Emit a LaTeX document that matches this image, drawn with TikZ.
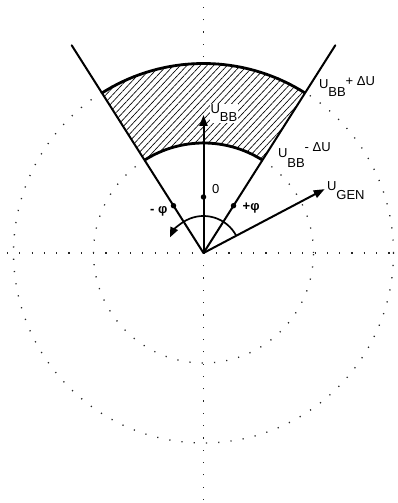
\documentclass[tikz,border=0pt]{standalone}
\usepackage{fontspec}
\setmainfont{Liberation Sans}
\usetikzlibrary{arrows.meta,patterns.meta}
\tikzset{
  dotline/.style={black!85,line width=1.3pt,dash pattern=on 1.2pt off 11.1pt},
  thickline/.style={line width=2pt,line cap=round},
  arcline/.style={line width=2.8pt},
  arrowline/.style={line width=2pt,-{Triangle[length=11pt,width=8pt]}},
  lbl/.style={inner sep=0.8pt,fill=white,font=\fontsize{13}{15}\selectfont},
  plbl/.style={inner sep=0.5pt,font=\fontsize{13}{15}\selectfont\bfseries},
  pdot/.style={circle,fill=black,inner sep=0pt,minimum size=5.5pt},
}
\begin{document}
\begin{tikzpicture}[x=1pt,y=1pt]
\useasboundingbox (-203.5,-250) rectangle (194.5,253);
% dotted grid
\draw[dotline] (0,0) circle[radius=110];
\draw[dotline] (0,0) circle[radius=190];
\draw[dotline] (-196.5,0) -- (187,0);
\draw[dotline] (0,-247) -- (0,246);
% coordinates
\coordinate (O) at (0,0);
\coordinate (L) at (122.4:246);
\coordinate (R) at (57.6:246);
\coordinate (Ubb) at (90:138);
\coordinate (Ugen) at (27.8:137);
% hatched annular sector
\fill[white] (57.6:110) arc[start angle=57.6,end angle=122.4,radius=110] -- (122.4:189.5) arc[start angle=122.4,end angle=57.6,radius=189.5] -- cycle;
\fill[pattern={Lines[angle=47,distance=4.9pt,line width=0.65pt]}] (57.6:110) arc[start angle=57.6,end angle=122.4,radius=110] -- (122.4:189.5) arc[start angle=122.4,end angle=57.6,radius=189.5] -- cycle;
\draw[arcline] (57.6:110) arc[start angle=57.6,end angle=122.4,radius=110];
\draw[arcline] (57.6:189.5) arc[start angle=57.6,end angle=122.4,radius=189.5];
% sector boundary lines
\draw[thickline] (O) -- (L);
\draw[thickline] (O) -- (R);
% labels
\node[lbl,anchor=base west] (lubb) at (6,139) {U\raisebox{-8pt}{BB}};
\node[lbl,anchor=base west] (lplus) at (114.5,164) {U\raisebox{-8pt}{BB}\raisebox{3pt}{+ ΔU}};
\node[lbl,anchor=base west] (lminus) at (73.5,95) {U\raisebox{-10pt}{BB}\raisebox{6pt}{- ΔU}};
\node[lbl,anchor=base west] (lgen) at (122.5,62) {U\raisebox{-9pt}{GEN}};
\node[inner sep=0pt,anchor=base west,font=\fontsize{13}{15}\selectfont] (lzero) at (8.5,59) {0};
\node[plbl,anchor=base west] (lmphi) at (-54,39) {- φ};
\node[plbl,anchor=base west] (lpphi) at (38.5,42) {+φ};
% arrows
\draw[arrowline] (O) -- (Ubb);
\draw[arrowline] (O) -- (Ugen);
\draw[line width=1.7pt,-{Triangle[length=10pt,width=8pt]}] (27.8:37) arc[start angle=27.8,end angle=155,radius=37];
% dots
\node[pdot] (d0) at (90:56) {};
\node[pdot] (dm) at (122.4:56) {};
\node[pdot] (dp) at (57.6:56) {};
\end{tikzpicture}
\end{document}
